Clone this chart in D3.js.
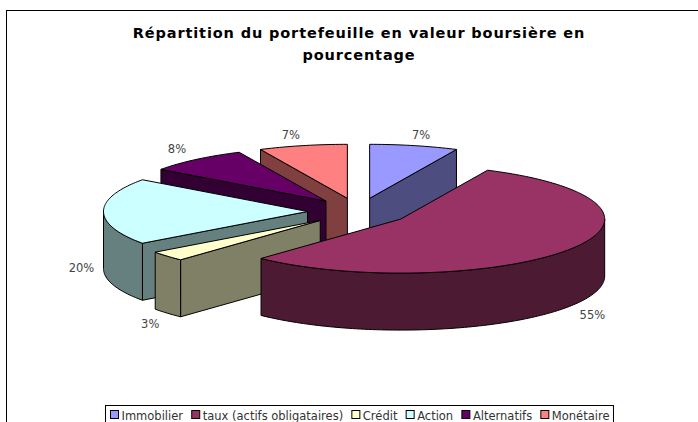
<!DOCTYPE html>
<html lang="fr">
<head>
    <meta charset="UTF-8">
    <title>Répartition du portefeuille</title>
    <script src="https://d3js.org/d3.v7.js"></script>
    <style>
        body { margin: 0; background: #fff; overflow: hidden; }
        svg { display: block; }
        text { font-family: "DejaVu Sans", sans-serif; }
    </style>
</head>
<body>
    <div id="chart"></div>
    <script>
        // data
        const categories = ["Immobilier", "taux (actifs obligataires)", "Crédit", "Action", "Alternatifs", "Monétaire"];
        const values = [7, 55, 3, 20, 8, 7];
        const titleLines = ["Répartition du portefeuille en valeur boursière en", "pourcentage"];

        // colours, top face then side face
        const topColors = ["#9999FF", "#993366", "#FFFFCC", "#CCFFFF", "#660066", "#FF8080"];
        const sideColors = ["#4D4D80", "#4D1A33", "#808066", "#668080", "#330033", "#804040"];

        // slices are painted back to front
        const drawOrder = [5, 0, 4, 3, 2, 1];
        const labelOffsets = [[7, -11], [23, 66], [-17, 68], [-22, 56], [-19, -10], [-12, -11]];

        const width = 698, height = 422;
        const cx = 358.5, cy = 211.5, rx = 204, ry = 54, depth = 57, explode = 0.25;

        const svg = d3.select("#chart").append("svg")
            .attr("width", width)
            .attr("height", height);

        // chart frame, cut by the picture on the right and at the bottom
        svg.append("rect")
            .attr("x", 6.5).attr("y", 10.5)
            .attr("width", width + 20).attr("height", height + 20)
            .attr("fill", "#fff").attr("stroke", "#000");

        // title
        svg.selectAll(".title").data(titleLines).enter().append("text")
            .attr("class", "title")
            .attr("x", 359)
            .attr("y", (d, i) => 38 + i * 22)
            .attr("text-anchor", "middle")
            .style("font-size", "14.5px")
            .style("letter-spacing", "0.87px")
            .style("font-weight", "bold")
            .text(d => d);

        // unit circle -> flattened ellipse on screen
        const px = d3.scaleLinear().domain([-1, 1]).range([cx - rx, cx + rx]);
        const py = d3.scaleLinear().domain([-1, 1]).range([cy + ry, cy - ry]);

        const pie = d3.pie().sort(null).startAngle(0).endAngle(2 * Math.PI);
        const slices = pie(values);

        const line = d3.line().x(d => d[0]).y(d => d[1]);

        function arcPoints(s, a0, a1) {
            const mid = (s.startAngle + s.endAngle) / 2;
            const ox = explode * Math.sin(mid), oy = explode * Math.cos(mid);
            const n = Math.max(2, Math.ceil((a1 - a0) / 0.02));
            return d3.range(n + 1).map(i => {
                const a = a0 + (a1 - a0) * i / n;
                return [px(ox + Math.sin(a)), py(oy + Math.cos(a))];
            });
        }

        function apex(s) {
            const mid = (s.startAngle + s.endAngle) / 2;
            return [px(explode * Math.sin(mid)), py(explode * Math.cos(mid))];
        }

        const down = p => [p[0], p[1] + depth];

        function wall(g, pts, color) {
            const outline = pts.concat(pts.slice().reverse().map(down));
            g.append("path")
                .attr("d", line(outline) + "Z")
                .attr("fill", color)
                .attr("stroke", "#000")
                .attr("stroke-linejoin", "round");
        }

        const pieG = svg.append("g");

        drawOrder.forEach(i => {
            const s = slices[i];
            const g = pieG.append("g");
            const c = apex(s);
            const a0 = s.startAngle, a1 = s.endAngle;

            // flat cut faces which look toward the viewer
            if (a1 < Math.PI) {
                wall(g, [c, arcPoints(s, a1, a1)[0]], sideColors[i]);
            }
            if (a0 > Math.PI) {
                wall(g, [c, arcPoints(s, a0, a0)[0]], sideColors[i]);
            }
            // outer rim, front half of the ellipse only
            const r0 = Math.max(a0, Math.PI / 2), r1 = Math.min(a1, 3 * Math.PI / 2);
            if (r1 > r0) {
                wall(g, arcPoints(s, r0, r1), sideColors[i]);
            }
            // top face
            g.append("path")
                .attr("d", line([c].concat(arcPoints(s, a0, a1))) + "Z")
                .attr("fill", topColors[i])
                .attr("stroke", "#000")
                .attr("stroke-linejoin", "round");
        });

        // percentage labels
        slices.forEach((s, i) => {
            const mid = (s.startAngle + s.endAngle) / 2;
            const p = arcPoints(s, mid, mid)[0];
            svg.append("text")
                .attr("x", p[0] + labelOffsets[i][0])
                .attr("y", p[1] + labelOffsets[i][1] + 4)
                .attr("text-anchor", "middle")
                .attr("fill", "#444")
                .style("font-size", "11.5px")
                .text(values[i] + "%");
        });

        // legend, laid out from the text widths
        const legend = svg.append("g");
        const legendBox = legend.append("rect")
            .attr("x", 105.5).attr("y", 405.5)
            .attr("height", 30)
            .attr("fill", "#fff").attr("stroke", "#000");
        let lx = 110;
        categories.forEach((name, i) => {
            legend.append("rect")
                .attr("x", lx + 0.5).attr("y", 410.5)
                .attr("width", 8).attr("height", 8)
                .attr("fill", topColors[i]).attr("stroke", "#000");
            const t = legend.append("text")
                .attr("x", lx + 11.5)
                .attr("y", 420)
                .attr("fill", "#333")
                .style("font-size", "11.5px")
                .text(name);
            lx += 11.5 + t.node().getComputedTextLength() + 8.2;
        });
        legendBox.attr("width", lx - 8.2 + 4 - 105.5);
    </script>
</body>
</html>
